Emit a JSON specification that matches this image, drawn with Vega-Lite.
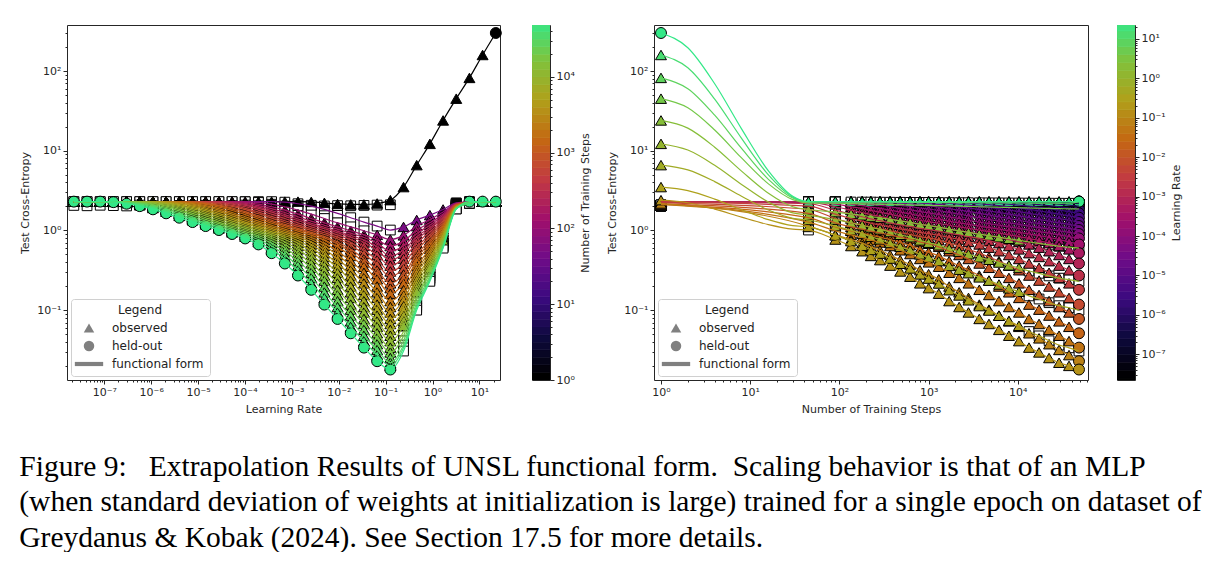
{
  "$schema": "https://vega.github.io/schema/vega-lite/v6.json",
  "background": "white",
  "padding": {"left": 19, "top": 24, "right": 0, "bottom": 0},
  "config": {
    "font": "DejaVu Sans",
    "view": {"stroke": "#262626", "strokeWidth": 1},
    "axis": {"labelFont": "DejaVu Sans", "titleFont": "DejaVu Sans", "labelFontSize": 11, "titleFontSize": 11, "titleFontWeight": "normal", "labelColor": "#262626", "titleColor": "#262626", "tickColor": "#262626", "domain": false, "grid": false, "tickSize": 4, "labelPadding": 2, "titlePadding": 6}
  },
  "title": {
    "text": ["Figure 9:\u00a0\u00a0 Extrapolation Results of UNSL functional form.\u00a0 Scaling behavior is that of an MLP", "(when standard deviation of weights at initialization is large) trained for a single epoch on dataset of", "Greydanus & Kobak (2024). See Section 17.5 for more details."],
    "orient": "bottom", "anchor": "start", "font": "Liberation Serif", "fontSize": 29.5, "fontWeight": "normal", "color": "#000000", "lineHeight": 35.5, "offset": 38
  },
  "datasets": {
    "cbL": [
      {"a":1,"b":1.259},{"a":1.259,"b":1.585},{"a":1.585,"b":1.995},{"a":1.995,"b":2.512},{"a":2.512,"b":3.162},{"a":3.162,"b":3.981},{"a":3.981,"b":5.012},{"a":5.012,"b":6.31},{"a":6.31,"b":7.943},{"a":7.943,"b":10},
      {"a":10,"b":12.59},{"a":12.59,"b":15.85},{"a":15.85,"b":19.95},{"a":19.95,"b":25.12},{"a":25.12,"b":31.62},{"a":31.62,"b":39.81},{"a":39.81,"b":50.12},{"a":50.12,"b":63.1},{"a":63.1,"b":79.43},{"a":79.43,"b":100},
      {"a":100,"b":125.9},{"a":125.9,"b":158.5},{"a":158.5,"b":199.5},{"a":199.5,"b":251.2},{"a":251.2,"b":316.2},{"a":316.2,"b":398.1},{"a":398.1,"b":501.2},{"a":501.2,"b":631},{"a":631,"b":794.3},{"a":794.3,"b":1000},
      {"a":1000,"b":1259},{"a":1259,"b":1585},{"a":1585,"b":1995},{"a":1995,"b":2512},{"a":2512,"b":3162},{"a":3162,"b":3981},{"a":3981,"b":5012},{"a":5012,"b":6310},{"a":6310,"b":7943},{"a":7943,"b":10000},
      {"a":10000,"b":12590},{"a":12590,"b":15850},{"a":15850,"b":19950},{"a":19950,"b":25120},{"a":25120,"b":31620},{"a":31620,"b":39810},{"a":39810,"b":50120}
    ],
    "cbR": [
      {"a":1.585e-8,"b":2.512e-8},{"a":2.512e-8,"b":3.981e-8},{"a":3.981e-8,"b":6.31e-8},{"a":6.31e-8,"b":1e-7},
      {"a":1e-7,"b":1.585e-7},{"a":1.585e-7,"b":2.512e-7},{"a":2.512e-7,"b":3.981e-7},{"a":3.981e-7,"b":6.31e-7},{"a":6.31e-7,"b":1e-6},
      {"a":1e-6,"b":1.585e-6},{"a":1.585e-6,"b":2.512e-6},{"a":2.512e-6,"b":3.981e-6},{"a":3.981e-6,"b":6.31e-6},{"a":6.31e-6,"b":1e-5},
      {"a":1e-5,"b":1.585e-5},{"a":1.585e-5,"b":2.512e-5},{"a":2.512e-5,"b":3.981e-5},{"a":3.981e-5,"b":6.31e-5},{"a":6.31e-5,"b":1e-4},
      {"a":1e-4,"b":1.585e-4},{"a":1.585e-4,"b":2.512e-4},{"a":2.512e-4,"b":3.981e-4},{"a":3.981e-4,"b":6.31e-4},{"a":6.31e-4,"b":1e-3},
      {"a":1e-3,"b":1.585e-3},{"a":1.585e-3,"b":2.512e-3},{"a":2.512e-3,"b":3.981e-3},{"a":3.981e-3,"b":6.31e-3},{"a":6.31e-3,"b":1e-2},
      {"a":1e-2,"b":1.585e-2},{"a":1.585e-2,"b":2.512e-2},{"a":2.512e-2,"b":3.981e-2},{"a":3.981e-2,"b":6.31e-2},{"a":6.31e-2,"b":0.1},
      {"a":0.1,"b":0.1585},{"a":0.1585,"b":0.2512},{"a":0.2512,"b":0.3981},{"a":0.3981,"b":0.631},{"a":0.631,"b":1},
      {"a":1,"b":1.585},{"a":1.585,"b":2.512},{"a":2.512,"b":3.981},{"a":3.981,"b":6.31},{"a":6.31,"b":10},
      {"a":10,"b":15.85},{"a":15.85,"b":25.12}
    ],
    "grid": [
      {"lr": 2.24e-8, "s": [1,45,90,135,180,225,285,370,480,620,800,1000,1300,1700,2200,2800,3700,4750,6150,7950,10300,13350,17300,22400,29000,37500,48500,1], "y": [2.3,2.3,2.3,2.3,2.3,2.3,2.3,2.3,2.3,2.3,2.3,2.3,2.3,2.3,2.3,2.3,2.3,2.3,2.3,2.3,2.3,2.3,2.3,2.3,2.3,2.3,2.3,2.06], "m": ["t","q","q","t","t","t","t","t","t","t","t","t","t","t","t","t","t","t","t","t","t","t","t","t","t","t","c","x"]},
      {"lr": 4.28e-8, "s": [1,45,90,135,180,225,285,370,480,620,800,1000,1300,1700,2200,2800,3700,4750,6150,7950,10300,13350,17300,22400,29000,37500,48500,1], "y": [2.3,2.3,2.3,2.3,2.3,2.3,2.3,2.3,2.3,2.3,2.3,2.3,2.3,2.3,2.3,2.3,2.3,2.3,2.3,2.3,2.3,2.3,2.3,2.3,2.3,2.3,2.3,2.04], "m": ["t","q","q","t","t","t","t","t","t","t","t","t","t","t","t","t","t","t","t","t","t","t","t","t","t","t","c","x"]},
      {"lr": 8.17e-8, "s": [1,45,90,135,180,225,285,370,480,620,800,1000,1300,1700,2200,2800,3700,4750,6150,7950,10300,13350,17300,22400,29000,37500,48500,1], "y": [2.3,2.3,2.3,2.3,2.3,2.3,2.3,2.3,2.3,2.3,2.3,2.3,2.3,2.3,2.3,2.3,2.3,2.3,2.3,2.3,2.3,2.3,2.3,2.3,2.3,2.3,2.3,2.07], "m": ["t","q","q","t","t","t","t","t","t","t","t","t","t","t","t","t","t","t","t","t","t","t","t","t","t","t","c","x"]},
      {"lr": 1.56e-7, "s": [1,45,90,135,180,225,285,370,480,620,800,1000,1300,1700,2200,2800,3700,4750,6150,7950,10300,13350,17300,22400,29000,37500,48500,1], "y": [2.3,2.3,2.3,2.3,2.3,2.3,2.3,2.3,2.3,2.3,2.3,2.3,2.3,2.3,2.3,2.3,2.3,2.3,2.3,2.3,2.3,2.3,2.3,2.3,2.293,2.279,2.265,2.05], "m": ["t","q","q","t","t","t","t","t","t","t","t","t","t","t","t","t","t","t","t","t","t","t","t","t","t","t","c","x"]},
      {"lr": 2.99e-7, "s": [1,45,90,135,180,225,285,370,480,620,800,1000,1300,1700,2200,2800,3700,4750,6150,7950,10300,13350,17300,22400,29000,37500,48500,1], "y": [2.3,2.3,2.3,2.3,2.3,2.3,2.3,2.3,2.3,2.3,2.3,2.3,2.3,2.3,2.3,2.3,2.3,2.3,2.3,2.3,2.3,2.3,2.286,2.272,2.245,2.204,2.163,2.03], "m": ["t","q","q","t","t","t","t","t","t","t","t","t","t","t","t","t","t","t","t","t","t","t","t","t","t","t","c","x"]},
      {"lr": 5.70e-7, "s": [1,45,90,135,180,225,285,370,480,620,800,1000,1300,1700,2200,2800,3700,4750,6150,7950,10300,13350,17300,22400,29000,37500,48500,1], "y": [2.3,2.3,2.3,2.3,2.3,2.3,2.3,2.3,2.3,2.3,2.3,2.3,2.3,2.3,2.3,2.3,2.3,2.3,2.3,2.293,2.279,2.265,2.224,2.183,2.134,2.076,2.018,2.08], "m": ["t","q","q","t","t","t","t","t","t","t","t","t","t","t","t","t","t","t","t","t","t","t","t","t","t","t","c","x"]},
      {"lr": 1.09e-6, "s": [1,45,90,135,180,225,285,370,480,620,800,1000,1300,1700,2200,2800,3700,4750,6150,7950,10300,13350,17300,22400,29000,37500,48500,1], "y": [2.3,2.3,2.3,2.3,2.3,2.3,2.3,2.3,2.3,2.3,2.3,2.3,2.3,2.3,2.3,2.3,2.3,2.286,2.272,2.245,2.204,2.163,2.105,2.047,1.983,1.912,1.841,2.05], "m": ["t","q","q","t","t","t","t","t","t","t","t","t","t","t","t","t","t","t","t","t","t","t","t","t","t","t","c","x"]},
      {"lr": 2.08e-6, "s": [1,45,90,135,180,225,285,370,480,620,800,1000,1300,1700,2200,2800,3700,4750,6150,7950,10300,13350,17300,22400,29000,37500,48500,1], "y": [2.3,2.3,2.3,2.3,2.3,2.3,2.3,2.3,2.3,2.3,2.3,2.3,2.3,2.3,2.293,2.279,2.265,2.224,2.183,2.134,2.076,2.018,1.947,1.876,1.801,1.721,1.641,2.02], "m": ["t","q","q","t","t","t","t","t","t","t","t","t","t","t","t","t","t","t","t","t","t","t","t","t","t","t","c","x"]},
      {"lr": 3.98e-6, "s": [1,45,90,135,180,225,285,370,480,620,800,1000,1300,1700,2200,2800,3700,4750,6150,7950,10300,13350,17300,22400,29000,37500,48500,1], "y": [2.3,2.3,2.3,2.3,2.3,2.3,2.3,2.3,2.3,2.3,2.3,2.3,2.29,2.272,2.245,2.204,2.163,2.105,2.047,1.983,1.912,1.841,1.761,1.681,1.602,1.523,1.445,2.06], "m": ["t","q","q","t","t","t","t","t","t","t","t","t","t","t","t","t","t","t","t","t","t","t","t","t","t","t","c","x"]},
      {"lr": 7.61e-6, "s": [1,45,90,135,180,225,285,370,480,620,800,1000,1300,1700,2200,2800,3700,4750,6150,7950,10300,13350,17300,22400,29000,37500,48500,1], "y": [2.3,2.3,2.3,2.3,2.3,2.3,2.3,2.3,2.3,2.297,2.279,2.269,2.234,2.183,2.134,2.076,2.018,1.947,1.876,1.801,1.721,1.641,1.563,1.484,1.411,1.342,1.274,2.04], "m": ["t","q","q","t","t","t","t","t","t","t","t","t","t","t","t","t","t","t","t","t","t","t","t","t","t","t","c","x"]},
      {"lr": 1.45e-5, "s": [1,45,90,135,180,225,285,370,480,620,800,1000,1300,1700,2200,2800,3700,4750,6150,7950,10300,13350,17300,22400,29000,37500,48500,1], "y": [2.3,2.3,2.3,2.3,2.3,2.3,2.3,2.293,2.276,2.255,2.204,2.173,2.12,2.047,1.983,1.912,1.841,1.761,1.681,1.602,1.523,1.445,1.377,1.308,1.246,1.191,1.135,2.07], "m": ["t","q","q","t","t","t","t","t","t","t","t","t","t","t","t","t","t","t","t","t","t","t","t","t","t","t","c","x"]},
      {"lr": 2.78e-5, "s": [1,45,90,135,180,225,285,370,480,620,800,1000,1300,1700,2200,2800,3700,4750,6150,7950,10300,13350,17300,22400,29000,37500,48500,1], "y": [2.3,2.3,2.3,2.3,2.3,2.29,2.276,2.245,2.194,2.149,2.076,2.033,1.965,1.876,1.801,1.721,1.641,1.563,1.484,1.411,1.342,1.274,1.218,1.163,1.11,1.061,1.012,2.03], "m": ["t","q","q","t","t","t","t","t","t","t","t","t","t","t","t","t","t","t","t","t","t","t","t","t","t","t","c","x"]},
      {"lr": 5.31e-5, "s": [1,45,90,135,180,225,285,370,480,620,800,1000,1300,1700,2200,2800,3700,4750,6150,7950,10300,13350,17300,22400,29000,37500,48500,1], "y": [2.3,2.3,2.3,2.293,2.272,2.234,2.194,2.134,2.062,2.0,1.912,1.859,1.781,1.681,1.602,1.523,1.445,1.377,1.308,1.246,1.191,1.135,1.086,1.037,0.99,0.946,0.902,2.05], "m": ["t","q","q","t","t","t","t","t","t","t","t","t","t","t","t","t","t","t","t","t","t","t","t","t","t","t","c","x"]},
      {"lr": 1.01e-4, "s": [1,45,90,135,180,225,285,370,480,620,800,1000,1300,1700,2200,2800,3700,4750,6150,7950,10300,13350,17300,22400,29000,37500,48500,1], "y": [2.3,2.3,2.293,2.245,2.183,2.12,2.062,1.983,1.894,1.821,1.721,1.661,1.582,1.484,1.411,1.342,1.274,1.218,1.163,1.11,1.061,1.012,0.968,0.924,0.88,0.837,0.794,2.08], "m": ["t","q","q","t","t","t","t","t","t","t","t","t","t","t","t","t","t","t","t","t","t","t","t","t","t","t","c","x"]},
      {"lr": 1.94e-4, "s": [1,45,90,135,180,225,285,370,480,620,800,1000,1300,1700,2200,2800,3700,4750,6150,7950,10300,13350,17300,22400,29000,37500,48500,1], "y": [2.3,2.3,2.245,2.134,2.047,1.965,1.894,1.801,1.701,1.621,1.523,1.465,1.394,1.308,1.246,1.191,1.135,1.086,1.037,0.99,0.946,0.902,0.859,0.816,0.769,0.718,0.668,2.04], "m": ["t","q","q","t","t","t","t","t","t","t","t","t","t","t","t","t","t","t","t","t","t","t","t","t","t","t","c","x"]},
      {"lr": 3.70e-4, "s": [1,45,90,135,180,225,285,370,480,620,800,1000,1300,1700,2200,2800,3700,4750,6150,7950,10300,13350,17300,22400,29000,37500,48500,1], "y": [2.3,2.3,2.134,1.983,1.876,1.781,1.701,1.602,1.504,1.428,1.342,1.291,1.232,1.163,1.11,1.061,1.012,0.968,0.924,0.88,0.837,0.794,0.744,0.693,0.638,0.579,0.519,2.06], "m": ["t","q","q","t","t","t","t","t","t","t","t","t","t","t","t","t","t","t","t","t","t","t","t","t","t","t","c","x"]},
      {"lr": 7.08e-4, "s": [1,45,90,135,180,225,285,370,480,620,800,1000,1300,1700,2200,2800,3700,4750,6150,7950,10300,13350,17300,22400,29000,37500,48500,1], "y": [2.3,2.265,1.983,1.801,1.681,1.582,1.504,1.411,1.325,1.26,1.191,1.149,1.098,1.037,0.99,0.946,0.902,0.859,0.816,0.769,0.718,0.668,0.608,0.549,0.492,0.439,0.385,2.02], "m": ["t","q","q","t","t","t","t","t","t","t","t","t","t","t","t","t","t","t","t","t","t","t","t","t","t","t","c","x"]},
      {"lr": 1.35e-3, "s": [1,45,90,135,180,225,285,370,480,620,800,1000,1300,1700,2200,2800,3700,4750,6150,7950,10300,13350,17300,22400,29000,37500,48500,1], "y": [2.3,2.163,1.801,1.602,1.484,1.394,1.325,1.246,1.177,1.123,1.061,1.024,0.979,0.924,0.88,0.837,0.794,0.744,0.693,0.638,0.579,0.519,0.465,0.412,0.362,0.317,0.272,2.05], "m": ["t","q","q","t","t","t","t","t","t","t","t","t","t","t","t","t","t","t","t","t","t","t","t","t","t","t","c","x"]},
      {"lr": 2.59e-3, "s": [1,45,90,135,180,225,285,370,480,620,800,1000,1300,1700,2200,2800,3700,4750,6150,7950,10300,13350,17300,22400,29000,37500,48500,1], "y": [2.28,2.018,1.602,1.411,1.308,1.232,1.177,1.11,1.049,1.001,0.946,0.913,0.87,0.816,0.769,0.718,0.668,0.608,0.549,0.492,0.439,0.385,0.34,0.295,0.254,0.217,0.18,2.07], "m": ["t","q","q","t","t","t","t","t","t","t","t","t","t","t","t","t","t","t","t","t","t","t","t","t","t","t","c","x"]},
      {"lr": 4.94e-3, "s": [1,45,90,135,180,225,285,370,480,620,800,1000,1300,1700,2200,2800,3700,4750,6150,7950,10300,13350,17300,22400,29000,37500,48500,1], "y": [2.22,1.841,1.411,1.246,1.163,1.098,1.049,0.99,0.935,0.891,0.837,0.805,0.756,0.693,0.638,0.579,0.519,0.465,0.412,0.362,0.317,0.272,0.235,0.198,0.1675,0.1425,0.1175,2.03], "m": ["t","q","q","t","t","t","t","t","t","t","t","t","t","t","t","t","t","t","t","t","t","t","t","t","t","t","c","x"]},
      {"lr": 9.44e-3, "s": [1,45,90,135,180,225,285,370,480,620,800,1000,1300,1700,2200,2800,3700,4750,6150,7950,10300,13350,17300,22400,29000,37500,48500,1], "y": [2.15,1.641,1.246,1.11,1.037,0.979,0.935,0.88,0.826,0.781,0.718,0.681,0.623,0.549,0.492,0.439,0.385,0.34,0.295,0.254,0.217,0.18,0.155,0.13,0.1095,0.0936,0.0776,2.05], "m": ["t","q","q","t","t","t","t","t","t","t","t","t","t","t","t","t","t","t","t","t","t","t","t","t","t","t","c","x"]},
      {"lr": 1.80e-2, "s": [1,45,90,135,180,225,285,370,480,620,800,1000,1300,1700,2200,2800,3700,4750,6150,7950,10300,13350,17300,22400,29000,37500,48500,1], "y": [2.12,1.445,1.11,0.99,0.924,0.87,0.826,0.769,0.706,0.653,0.579,0.534,0.479,0.412,0.362,0.317,0.272,0.235,0.198,0.1675,0.1425,0.1175,0.1015,0.0856,0.0724,0.0618,0.0513,2.04], "m": ["t","q","q","t","t","t","t","t","t","t","t","t","t","t","t","t","t","t","t","t","t","t","t","t","t","t","c","x"]},
      {"lr": 3.45e-2, "s": [1,45,90,135,180,225,285,370,480,620,800,1000,1300,1700,2200,2800,3700,4750,6150,7950,10300,13350,17300,22400,29000,37500,48500,1], "y": [2.12,1.274,0.99,0.88,0.816,0.756,0.706,0.638,0.564,0.506,0.439,0.398,0.351,0.295,0.254,0.217,0.18,0.155,0.13,0.1095,0.0936,0.0776,0.0671,0.0566,0.0478,0.0409,0.0339,2.06], "m": ["t","q","q","t","t","t","t","t","t","t","t","t","t","t","t","t","t","t","t","t","t","t","t","t","t","t","c","x"]},
      {"lr": 6.59e-2, "s": [1,45,90,135,180,225,285,370,480,620,800,1000,1300,1700,2200,2800,3700,4750,6150,7950,10300,13350,17300,22400,29000,37500,48500,1], "y": [2.18,1.135,0.88,0.769,0.693,0.623,0.564,0.492,0.425,0.374,0.317,0.283,0.244,0.198,0.1675,0.1425,0.1175,0.1015,0.0856,0.0724,0.0618,0.0513,0.0443,0.0374,0.0317,0.0273,0.0229,2.08], "m": ["t","q","t","t","t","t","t","t","t","t","t","t","t","t","t","t","t","t","t","t","t","t","t","t","t","t","c","x"]},
      {"lr": 0.126, "s": [1,45,90,135,180,225,285,370,480,620,800,1000,1300,1700,2200,2800,3700,4750,6150,7950,10300,13350,17300,22400,29000,37500,48500,1,2,4,8,16,30], "y": [2.4,1.012,0.769,0.638,0.549,0.479,0.425,0.362,0.306,0.263,0.217,0.189,0.161,0.13,0.1095,0.0936,0.0776,0.0671,0.0566,0.0478,0.0409,0.0339,0.0295,0.0251,0.0219,0.02,0.018,2.1,2.227,1.851,1.468,1.184,1.039], "m": ["t","q","t","t","t","t","t","t","t","t","t","t","t","t","t","t","t","t","t","t","t","t","t","t","t","t","c","x","f","f","f","f","f"]},
      {"lr": 0.241, "s": [1,45,90,135,180,225,285,370,480,620,800,1000,1300,1700,2200,2800,3700,4750,6150,7950,10300,13350,17300,22400,29000,37500,48500,2,4,8,16,30], "y": [3.5,1.107,0.868,0.735,0.643,0.569,0.512,0.444,0.382,0.334,0.281,0.249,0.216,0.178,0.153,0.133,0.1126,0.099,0.0851,0.0732,0.0637,0.0539,0.0476,0.0413,0.0365,0.0337,0.0307,3.167,2.476,1.819,1.366,1.148], "m": ["t","t","t","t","t","t","t","t","t","t","t","t","t","t","t","t","t","t","t","t","t","q","q","q","q","q","q","f","f","f","f","f"]},
      {"lr": 0.460, "s": [1,45,90,135,180,225,285,370,480,620,800,1000,1300,1700,2200,2800,3700,4750,6150,7950,10300,13350,17300,22400,29000,37500,48500,2,4,8,16,30], "y": [6.6,1.353,1.134,1.005,0.912,0.834,0.773,0.697,0.625,0.567,0.501,0.458,0.413,0.359,0.322,0.291,0.258,0.2345,0.21,0.188,0.17,0.151,0.138,0.124,0.1138,0.1073,0.1,5.75,4.1,2.68,1.805,1.421], "m": ["t","t","t","t","t","t","t","t","t","t","t","t","t","t","t","t","t","t","t","t","t","q","q","q","q","q","q","f","f","f","f","f"]},
      {"lr": 0.879, "s": [1,45,90,135,180,225,285,370,480,620,800,1000,1300,1700,2200,2800,3700,4750,6150,7950,10300,13350,17300,22400,29000,37500,48500,2,4,8,16,30], "y": [12.2,1.557,1.367,1.252,1.166,1.092,1.032,0.956,0.883,0.822,0.75,0.702,0.651,0.588,0.542,0.503,0.46,0.429,0.396,0.365,0.339,0.31,0.29,0.269,0.252,0.2416,0.23,10.2,6.57,3.78,2.265,1.66], "m": ["t","t","t","t","t","t","t","t","t","t","t","t","t","t","t","t","t","t","t","t","t","q","q","q","q","q","q","f","f","f","f","f"]},
      {"lr": 1.68, "s": [1,45,90,135,180,225,285,370,480,620,800,1000,1300,1700,2200,2800,3700,4750,6150,7950,10300,13350,17300,22400,29000,37500,48500,2,4,8,16,30], "y": [24,1.833,1.699,1.613,1.548,1.49,1.441,1.379,1.316,1.262,1.197,1.152,1.102,1.038,0.99,0.948,0.9,0.864,0.824,0.787,0.754,0.716,0.688,0.658,0.634,0.618,0.6,19.2,11.07,5.55,2.93,1.986], "m": ["t","t","t","t","t","t","t","t","t","t","t","t","t","t","t","t","t","t","t","t","t","q","q","q","q","q","q","f","f","f","f","f"]},
      {"lr": 3.21, "s": [1,45,90,135,180,225,285,370,480,620,800,1000,1300,1700,2200,2800,3700,4750,6150,7950,10300,13350,17300,22400,29000,37500,48500,2,4,8,16,30], "y": [45,2.219,2.193,2.175,2.161,2.148,2.136,2.121,2.106,2.092,2.074,2.062,2.047,2.028,2.013,2.0,1.983,1.97,1.955,1.941,1.928,1.912,1.9,1.887,1.876,1.867,1.859,34.6,18.2,8.12,3.84,2.436], "m": ["t","q","q","q","q","q","q","q","q","q","q","q","q","q","q","q","q","q","q","q","q","q","q","q","q","q","q","f","f","f","f","f"]},
      {"lr": 6.13, "s": [1,45,90,135,180,225,285,370,480,620,800,1000,1300,1700,2200,2800,3700,4750,6150,7950,10300,13350,17300,22400,29000,37500,48500,2,4,8,16,30], "y": [82,2.283,2.277,2.272,2.27,2.27,2.263,2.26,2.256,2.252,2.248,2.245,2.241,2.236,2.232,2.229,2.225,2.222,2.218,2.214,2.211,2.207,2.204,2.2,2.197,2.194,2.3,60.1,27.9,10.7,4.38,2.55], "m": ["t","q","q","q","q","q","q","q","q","q","q","q","q","q","q","q","q","q","q","q","q","q","q","q","q","q","c","f","f","f","f","f"]},
      {"lr": 11.7, "s": [1,45,90,135,180,225,285,370,480,620,800,1000,1300,1700,2200,2800,3700,4750,6150,7950,10300,13350,17300,22400,29000,37500,48500,2,4,8,16,30], "y": [159,2.3,2.3,2.3,2.3,2.3,2.3,2.3,2.3,2.3,2.3,2.3,2.3,2.3,2.3,2.3,2.3,2.3,2.3,2.3,2.3,2.3,2.3,2.3,2.3,2.3,2.3,110,44.4,14.3,4.97,2.62], "m": ["t","t","t","t","t","t","t","t","t","t","t","t","t","t","t","t","t","t","t","t","t","t","t","t","t","t","c","f","f","f","f","f"]},
      {"lr": 22.4, "s": [1,45,90,135,180,225,285,370,480,620,800,1000,1300,1700,2200,2800,3700,4750,6150,7950,10300,13350,17300,22400,29000,37500,48500,2,4,8,16,30], "y": [300,2.3,2.3,2.3,2.3,2.3,2.3,2.3,2.3,2.3,2.3,2.3,2.3,2.3,2.3,2.3,2.3,2.3,2.3,2.3,2.3,2.3,2.3,2.3,2.3,2.3,2.3,196,69.2,18.8,5.58,2.68], "m": ["c","t","t","t","t","t","t","t","t","t","t","t","t","t","t","t","t","t","t","t","t","t","t","t","t","t","c","f","f","f","f","f"]}
    ]
  },
  "hconcat": [
    {
      "spacing": 27,
      "resolve": {"scale": {"x": "independent", "y": "independent", "color": "independent", "shape": "independent", "stroke": "independent"}, "legend": {"shape": "independent"}},
      "hconcat": [
        {
          "width": 433,
          "height": 355,
          "resolve": {"axis": {"x": "independent", "y": "independent"}},
          "layer": [
            {
              "data": {"name": "grid"},
              "transform": [{"flatten": ["s", "y", "m"]}, {"filter": "datum.m === 'q' || datum.m === 'x'"}],
              "mark": {"type": "point", "shape": "square", "filled": true, "fill": "white", "stroke": "black", "strokeWidth": 1, "size": 95, "opacity": 1},
              "encoding": {
                "x": {"field": "lr", "type": "quantitative", "scale": {"type": "log", "domain": [1.6e-8, 27.5], "nice": false}, "axis": null},
                "y": {"field": "y", "type": "quantitative", "scale": {"type": "log", "domain": [0.0133, 378], "nice": false}, "axis": null}
              }
            },
            {
              "data": {"name": "grid"},
              "transform": [{"flatten": ["s", "y", "m"]}, {"filter": "datum.m === 't' || datum.m === 'c'"}],
              "mark": {"type": "point", "filled": true, "stroke": "black", "strokeWidth": 1, "size": 120, "opacity": 1},
              "encoding": {
                "x": {"field": "lr", "type": "quantitative", "scale": {"type": "log", "domain": [1.6e-8, 27.5], "nice": false},
                  "axis": {"orient": "bottom", "labels": false, "title": null, "tickSize": 2, "values": [2e-8,3e-8,4e-8,5e-8,6e-8,7e-8,8e-8,9e-8,2e-7,3e-7,4e-7,5e-7,6e-7,7e-7,8e-7,9e-7,2e-6,3e-6,4e-6,5e-6,6e-6,7e-6,8e-6,9e-6,2e-5,3e-5,4e-5,5e-5,6e-5,7e-5,8e-5,9e-5,2e-4,3e-4,4e-4,5e-4,6e-4,7e-4,8e-4,9e-4,0.002,0.003,0.004,0.005,0.006,0.007,0.008,0.009,0.02,0.03,0.04,0.05,0.06,0.07,0.08,0.09,0.2,0.3,0.4,0.5,0.6,0.7,0.8,0.9,2,3,4,5,6,7,8,9,20]}},
                "y": {"field": "y", "type": "quantitative", "scale": {"type": "log", "domain": [0.0133, 378], "nice": false},
                  "axis": {"orient": "left", "labels": false, "title": null, "tickSize": 2, "values": [0.02,0.03,0.04,0.05,0.06,0.07,0.08,0.09,0.2,0.3,0.4,0.5,0.6,0.7,0.8,0.9,2,3,4,5,6,7,8,9,20,30,40,50,60,70,80,90,200,300]}},
                "color": {"field": "s", "type": "quantitative", "legend": null,
                  "scale": {"type": "log", "domain": [1, 3.32, 11, 36.5, 121, 401, 1330, 4410, 14640, 48500], "range": ["#000000", "#0e0a3e", "#3c0a80", "#700c88", "#a2106a", "#c23a42", "#c46812", "#b0a01a", "#80c23c", "#33e887"], "interpolate": "rgb"}},
                "shape": {"field": "m", "type": "nominal",
                  "scale": {"domain": ["t", "c", "f", "q", "x"], "range": ["triangle-up", "circle", "M-2.7,-0.4H2.7V0.4H-2.7Z", "square", "square"]},
                  "legend": {"title": "Legend", "orient": "bottom-left", "offset": 4, "values": ["t", "c", "f"],
                    "labelExpr": "datum.label === 't' ? 'observed' : datum.label === 'c' ? 'held-out' : 'functional form'",
                    "fillColor": "white", "strokeColor": "#d0d0d0", "cornerRadius": 3, "padding": 6, "titleAnchor": "middle", "titleFontSize": 12, "titleFontWeight": "normal", "titleColor": "#222222", "titlePadding": 5, "labelFontSize": 12, "labelColor": "#222222", "labelOffset": 17, "rowPadding": 6, "symbolSize": 110, "symbolOffset": 6,
                    "symbolFillColor": "#808080", "symbolStrokeColor": "#808080", "symbolStrokeWidth": 0, "symbolOpacity": 1}}
              }
            },
            {
              "data": {"name": "grid"},
              "transform": [{"flatten": ["s", "y", "m"]}, {"filter": "datum.m !== 'f' && datum.m !== 'x'"}],
              "mark": {"type": "line", "strokeWidth": 1.2, "interpolate": "monotone"},
              "encoding": {
                "x": {"field": "lr", "type": "quantitative", "scale": {"type": "log", "domain": [1.6e-8, 27.5], "nice": false},
                  "axis": {"orient": "bottom", "title": "Learning Rate", "values": [1e-7, 1e-6, 1e-5, 1e-4, 1e-3, 1e-2, 1e-1, 1, 10],
                    "labelExpr": "'10' + (datum.value < 0.999 ? '⁻' : '') + ['⁰','¹','²','³','⁴','⁵','⁶','⁷','⁸','⁹'][abs(round(log(datum.value) / LN10))]"}},
                "y": {"field": "y", "type": "quantitative", "scale": {"type": "log", "domain": [0.0133, 378], "nice": false},
                  "axis": {"orient": "left", "title": "Test Cross-Entropy", "values": [0.1, 1, 10, 100],
                    "labelExpr": "'10' + (datum.value < 0.999 ? '⁻' : '') + ['⁰','¹','²','³','⁴','⁵','⁶','⁷','⁸','⁹'][abs(round(log(datum.value) / LN10))]"}},
                "color": {"field": "s", "type": "quantitative", "legend": null},
                "detail": {"field": "s", "type": "quantitative"}
              }
            }
          ]
        },
        {
          "width": 18,
          "height": 355,
          "data": {"name": "cbL"},
          "resolve": {"axis": {"y": "independent"}},
          "layer": [
            {
              "mark": {"type": "rect", "clip": true, "strokeWidth": 0.6},
              "encoding": {
                "x": {"datum": 0, "type": "quantitative", "scale": {"domain": [0, 1]}, "axis": null},
                "x2": {"datum": 1},
                "y": {"field": "a", "type": "quantitative", "scale": {"type": "log", "domain": [1, 48500], "nice": false},
                  "axis": {"orient": "right", "values": [1, 10, 100, 1000, 10000], "title": "Number of Training Steps", "titleAngle": 270, "titleBaseline": "top", "titlePadding": 5,
                    "labelExpr": "'10' + (datum.value < 0.999 ? '⁻' : '') + ['⁰','¹','²','³','⁴','⁵','⁶','⁷','⁸','⁹'][abs(round(log(datum.value) / LN10))]"}},
                "y2": {"field": "b"},
                "color": {"field": "a", "type": "quantitative", "legend": null,
                  "scale": {"type": "log", "domain": [1, 3.32, 11, 36.5, 121, 401, 1330, 4410, 14640, 48500], "range": ["#000000", "#0e0a3e", "#3c0a80", "#700c88", "#a2106a", "#c23a42", "#c46812", "#b0a01a", "#80c23c", "#33e887"], "interpolate": "rgb"}},
                "stroke": {"field": "a", "type": "quantitative", "legend": null,
                  "scale": {"type": "log", "domain": [1, 3.32, 11, 36.5, 121, 401, 1330, 4410, 14640, 48500], "range": ["#000000", "#0e0a3e", "#3c0a80", "#700c88", "#a2106a", "#c23a42", "#c46812", "#b0a01a", "#80c23c", "#33e887"], "interpolate": "rgb"}}
              }
            },
            {
              "mark": {"type": "rect", "clip": true, "opacity": 0},
              "encoding": {
                "x": {"datum": 0, "type": "quantitative", "scale": {"domain": [0, 1]}, "axis": null},
                "x2": {"datum": 1},
                "y": {"field": "a", "type": "quantitative", "scale": {"type": "log", "domain": [1, 48500], "nice": false},
                  "axis": {"orient": "right", "labels": false, "title": null, "tickSize": 2, "values": [2,3,4,5,6,7,8,9,20,30,40,50,60,70,80,90,200,300,400,500,600,700,800,900,2000,3000,4000,5000,6000,7000,8000,9000,20000,30000,40000]}},
                "y2": {"field": "b"}
              }
            }
          ]
        }
      ]
    },
    {
      "spacing": 27,
      "resolve": {"scale": {"x": "independent", "y": "independent", "color": "independent", "shape": "independent", "stroke": "independent"}, "legend": {"shape": "independent"}},
      "hconcat": [
        {
          "width": 434,
          "height": 355,
          "resolve": {"axis": {"x": "independent", "y": "independent"}},
          "layer": [
            {
              "data": {"name": "grid"},
              "transform": [{"flatten": ["s", "y", "m"]}, {"filter": "datum.m === 'q' || datum.m === 'x'"}],
              "mark": {"type": "point", "shape": "square", "filled": true, "fill": "white", "stroke": "black", "strokeWidth": 1, "size": 95, "opacity": 1},
              "encoding": {
                "x": {"field": "s", "type": "quantitative", "scale": {"type": "log", "domain": [0.835, 61200], "nice": false}, "axis": null},
                "y": {"field": "y", "type": "quantitative", "scale": {"type": "log", "domain": [0.0133, 378], "nice": false}, "axis": null}
              }
            },
            {
              "data": {"name": "grid"},
              "transform": [{"flatten": ["s", "y", "m"]}, {"filter": "datum.m === 't' || datum.m === 'c'"}],
              "mark": {"type": "point", "filled": true, "stroke": "black", "strokeWidth": 1, "size": 120, "opacity": 1},
              "encoding": {
                "x": {"field": "s", "type": "quantitative", "scale": {"type": "log", "domain": [0.835, 61200], "nice": false},
                  "axis": {"orient": "bottom", "labels": false, "title": null, "tickSize": 2, "values": [2,3,4,5,6,7,8,9,20,30,40,50,60,70,80,90,200,300,400,500,600,700,800,900,2000,3000,4000,5000,6000,7000,8000,9000,20000,30000,40000,50000,60000]}},
                "y": {"field": "y", "type": "quantitative", "scale": {"type": "log", "domain": [0.0133, 378], "nice": false},
                  "axis": {"orient": "left", "labels": false, "title": null, "tickSize": 2, "values": [0.02,0.03,0.04,0.05,0.06,0.07,0.08,0.09,0.2,0.3,0.4,0.5,0.6,0.7,0.8,0.9,2,3,4,5,6,7,8,9,20,30,40,50,60,70,80,90,200,300]}},
                "color": {"field": "lr", "type": "quantitative", "legend": null,
                  "scale": {"type": "log", "domain": [2.24e-8, 2.24e-7, 2.24e-6, 2.24e-5, 2.24e-4, 2.24e-3, 2.24e-2, 0.224, 2.24, 22.4], "range": ["#000000", "#0e0a3e", "#3c0a80", "#700c88", "#a2106a", "#c23a42", "#c46812", "#b0a01a", "#80c23c", "#33e887"], "interpolate": "rgb"}},
                "shape": {"field": "m", "type": "nominal",
                  "scale": {"domain": ["t", "c", "f", "q", "x"], "range": ["triangle-up", "circle", "M-2.7,-0.4H2.7V0.4H-2.7Z", "square", "square"]},
                  "legend": {"title": "Legend", "orient": "bottom-left", "offset": 4, "values": ["t", "c", "f"],
                    "labelExpr": "datum.label === 't' ? 'observed' : datum.label === 'c' ? 'held-out' : 'functional form'",
                    "fillColor": "white", "strokeColor": "#d0d0d0", "cornerRadius": 3, "padding": 6, "titleAnchor": "middle", "titleFontSize": 12, "titleFontWeight": "normal", "titleColor": "#222222", "titlePadding": 5, "labelFontSize": 12, "labelColor": "#222222", "labelOffset": 17, "rowPadding": 6, "symbolSize": 110, "symbolOffset": 6,
                    "symbolFillColor": "#808080", "symbolStrokeColor": "#808080", "symbolStrokeWidth": 0, "symbolOpacity": 1}}
              }
            },
            {
              "data": {"name": "grid"},
              "transform": [{"flatten": ["s", "y", "m"]}, {"filter": "datum.m !== 'x'"}],
              "mark": {"type": "line", "strokeWidth": 1.2, "interpolate": "monotone"},
              "encoding": {
                "x": {"field": "s", "type": "quantitative", "scale": {"type": "log", "domain": [0.835, 61200], "nice": false},
                  "axis": {"orient": "bottom", "title": "Number of Training Steps", "values": [1, 10, 100, 1000, 10000],
                    "labelExpr": "'10' + (datum.value < 0.999 ? '⁻' : '') + ['⁰','¹','²','³','⁴','⁵','⁶','⁷','⁸','⁹'][abs(round(log(datum.value) / LN10))]"}},
                "y": {"field": "y", "type": "quantitative", "scale": {"type": "log", "domain": [0.0133, 378], "nice": false},
                  "axis": {"orient": "left", "title": "Test Cross-Entropy", "values": [0.1, 1, 10, 100],
                    "labelExpr": "'10' + (datum.value < 0.999 ? '⁻' : '') + ['⁰','¹','²','³','⁴','⁵','⁶','⁷','⁸','⁹'][abs(round(log(datum.value) / LN10))]"}},
                "color": {"field": "lr", "type": "quantitative", "legend": null},
                "detail": {"field": "lr", "type": "quantitative"}
              }
            }
          ]
        },
        {
          "width": 18,
          "height": 355,
          "data": {"name": "cbR"},
          "resolve": {"axis": {"y": "independent"}},
          "layer": [
            {
              "mark": {"type": "rect", "clip": true, "strokeWidth": 0.6},
              "encoding": {
                "x": {"datum": 0, "type": "quantitative", "scale": {"domain": [0, 1]}, "axis": null},
                "x2": {"datum": 1},
                "y": {"field": "a", "type": "quantitative", "scale": {"type": "log", "domain": [2.24e-8, 22.4], "nice": false},
                  "axis": {"orient": "right", "values": [1e-7, 1e-6, 1e-5, 1e-4, 1e-3, 1e-2, 1e-1, 1, 10], "title": "Learning Rate", "titleAngle": 270, "titleBaseline": "top", "titlePadding": 5,
                    "labelExpr": "'10' + (datum.value < 0.999 ? '⁻' : '') + ['⁰','¹','²','³','⁴','⁵','⁶','⁷','⁸','⁹'][abs(round(log(datum.value) / LN10))]"}},
                "y2": {"field": "b"},
                "color": {"field": "a", "type": "quantitative", "legend": null,
                  "scale": {"type": "log", "domain": [2.24e-8, 2.24e-7, 2.24e-6, 2.24e-5, 2.24e-4, 2.24e-3, 2.24e-2, 0.224, 2.24, 22.4], "range": ["#000000", "#0e0a3e", "#3c0a80", "#700c88", "#a2106a", "#c23a42", "#c46812", "#b0a01a", "#80c23c", "#33e887"], "interpolate": "rgb", "clamp": true}},
                "stroke": {"field": "a", "type": "quantitative", "legend": null,
                  "scale": {"type": "log", "domain": [2.24e-8, 2.24e-7, 2.24e-6, 2.24e-5, 2.24e-4, 2.24e-3, 2.24e-2, 0.224, 2.24, 22.4], "range": ["#000000", "#0e0a3e", "#3c0a80", "#700c88", "#a2106a", "#c23a42", "#c46812", "#b0a01a", "#80c23c", "#33e887"], "interpolate": "rgb", "clamp": true}}
              }
            },
            {
              "mark": {"type": "rect", "clip": true, "opacity": 0},
              "encoding": {
                "x": {"datum": 0, "type": "quantitative", "scale": {"domain": [0, 1]}, "axis": null},
                "x2": {"datum": 1},
                "y": {"field": "a", "type": "quantitative", "scale": {"type": "log", "domain": [2.24e-8, 22.4], "nice": false},
                  "axis": {"orient": "right", "labels": false, "title": null, "tickSize": 2, "values": [3e-8,4e-8,5e-8,6e-8,7e-8,8e-8,9e-8,2e-7,3e-7,4e-7,5e-7,6e-7,7e-7,8e-7,9e-7,2e-6,3e-6,4e-6,5e-6,6e-6,7e-6,8e-6,9e-6,2e-5,3e-5,4e-5,5e-5,6e-5,7e-5,8e-5,9e-5,2e-4,3e-4,4e-4,5e-4,6e-4,7e-4,8e-4,9e-4,0.002,0.003,0.004,0.005,0.006,0.007,0.008,0.009,0.02,0.03,0.04,0.05,0.06,0.07,0.08,0.09,0.2,0.3,0.4,0.5,0.6,0.7,0.8,0.9,2,3,4,5,6,7,8,9,20]}},
                "y2": {"field": "b"}
              }
            }
          ]
        }
      ]
    }
  ],
  "spacing": 15,
  "resolve": {
    "scale": {"x": "independent", "y": "independent", "color": "independent", "shape": "independent", "stroke": "independent"},
    "legend": {"shape": "independent"}
  }
}
